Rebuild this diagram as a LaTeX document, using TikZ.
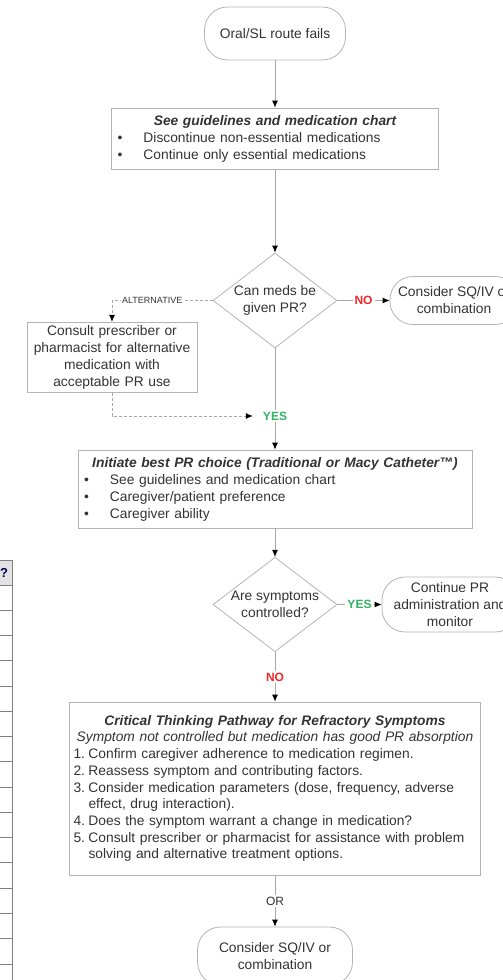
\documentclass[tikz,border=0pt]{standalone}
\usepackage{fontspec}
\setmainfont{Liberation Sans}
\usetikzlibrary{shapes.geometric,arrows.meta}

\definecolor{linie}{HTML}{A8A8A8}
\definecolor{rand}{HTML}{B4B4B4}
\definecolor{schrift}{HTML}{333333}
\definecolor{neinrot}{HTML}{F02828}
\definecolor{jagruen}{HTML}{30B460}
\definecolor{tabkopf}{HTML}{E2E2E2}

\newcommand{\punkt}{\makebox[26pt][l]{\textbullet}}
\newcommand{\nr}[1]{\makebox[15pt][l]{#1}}

\tikzset{
    kasten/.style={draw=rand, line width=0.8pt, rectangle, text=schrift,
        align=left, inner xsep=6pt, execute at begin node=\parindent0pt},
    rund/.style={draw=rand, line width=0.8pt, rectangle, rounded corners=23pt,
        text=schrift, align=center, inner sep=2pt},
    raute/.style={draw=rand, line width=0.8pt, diamond, aspect=1.3,
        inner sep=0pt, text=schrift, align=center},
    leitung/.style={draw=linie, line width=0.8pt},
    marke/.style={fill=white, inner sep=2pt, font=\fontsize{12}{14}\selectfont\bfseries},
}

\begin{document}
\begin{tikzpicture}[x=1pt, y=-1pt,
        font=\fontsize{13.8}{17}\selectfont,
        >={Latex[length=7pt,width=6pt,color=black]} % Pfeilspitzen
        ]
            \useasboundingbox (0,0) rectangle (503,980);
            \clip (0,0) rectangle (503,980);

            % Tabelle links (angeschnitten)
            \fill[tabkopf] (0,560) rectangle (12.5,585);
            \draw[gray, line width=1pt] (12.5,560) -- (12.5,980)
                                        (0,560) -- (12.5,560);
            \foreach \i in {0,...,15}
                \draw[gray, line width=1pt] (0,{585+25.27*\i}) -- (12.5,{585+25.27*\i});
            \node[font=\fontsize{13}{15}\selectfont\bfseries, text=blue!35!black] (frage) at (4,572.5) {?};

            % Knoten
            \node[rund, minimum width=141pt, minimum height=53pt] (start) at (275,33.5)
                {Oral/SL route fails};
            \node[kasten, text width=315pt, minimum height=61pt] (leitfaden) at (275,138.5)
                {{\centering\bfseries\itshape See guidelines and medication chart\par}
                 \punkt Discontinue non-essential medications\\
                 \punkt Continue only essential medications};
            \node[raute, minimum width=124pt, minimum height=95pt] (prfrage) at (275,300.5)
                {Can meds be\\given PR?};
            \node[rund, minimum width=128pt, minimum height=48pt] (sqiv) at (454,300.5)
                {Consider SQ/IV or\\combination};
            \node[kasten, align=center, text width=158pt, minimum height=69pt] (beraten) at (112,357.5)
                {Consult prescriber or\\pharmacist for alternative\\medication with\\acceptable PR use};
            \node[marke, text=jagruen, inner xsep=10pt] (ja) at (275,416) {YES};
            \node[kasten, text width=382pt, minimum height=78pt] (wahl) at (275,489)
                {{\centering\bfseries\itshape Initiate best PR choice (Traditional or Macy Catheter™)\par}
                 \punkt See guidelines and medication chart\\
                 \punkt Caregiver/patient preference\\
                 \punkt Caregiver ability};
            \node[raute, minimum width=124pt, minimum height=93pt] (kontrolle) at (275,604.5)
                {Are symptoms\\controlled?};
            \node[rund, minimum width=136pt, minimum height=55pt] (weiter) at (450,604.5)
                {Continue PR\\administration and\\monitor};
            \node[kasten, inner xsep=4pt, text width=403pt, minimum height=173pt,
                  font=\fontsize{13.8}{16.7}\selectfont] (pfad) at (275,788.5)
                {{\centering{\bfseries\itshape Critical Thinking Pathway for Refractory Symptoms}\\
                  \itshape Symptom not controlled but medication has good PR absorption\par}
                 \nr{1.}Confirm caregiver adherence to medication regimen.\\
                 \nr{2.}Reassess symptom and contributing factors.\\
                 \nr{3.}Consider medication parameters (dose, frequency, adverse\\
                 \nr{}effect, drug interaction).\\
                 \nr{4.}Does the symptom warrant a change in medication?\\
                 \nr{5.}Consult prescriber or pharmacist for assistance with problem\\
                 \nr{}solving and alternative treatment options.};
            \node[rund, minimum width=155pt, minimum height=58pt] (sqivb) at (275,956)
                {Consider SQ/IV or\\combination};

            % Verbindungen
            \draw[leitung, ->] (start) -- (leitfaden);
            \draw[leitung, ->] (leitfaden) -- (prfrage);
            \draw[leitung, ->] (prfrage) -- node[marke, text=neinrot] {NO} (sqiv);
            \draw[leitung, ->, densely dashed] (prfrage.west) -| node[pos=0.3, fill=white,
                inner sep=1pt, font=\fontsize{9}{10}\selectfont, text=schrift] {ALTERNATIVE} (beraten);
            \draw[leitung, ->, densely dashed] (beraten) |- (ja);
            \draw[leitung] (prfrage) -- (ja);
            \draw[leitung, ->] (ja) -- (wahl);
            \draw[leitung, ->] (wahl) -- (kontrolle);
            \draw[leitung, ->] (kontrolle) -- node[marke, text=jagruen] {YES} (weiter);
            \draw[leitung, ->] (kontrolle) -- node[marke, text=neinrot] {NO} (pfad);
            \draw[leitung, ->] (pfad) -- node[marke, font=\fontsize{12}{14}\selectfont,
                text=schrift] {OR} (sqivb);

        \end{tikzpicture}
\end{document}
